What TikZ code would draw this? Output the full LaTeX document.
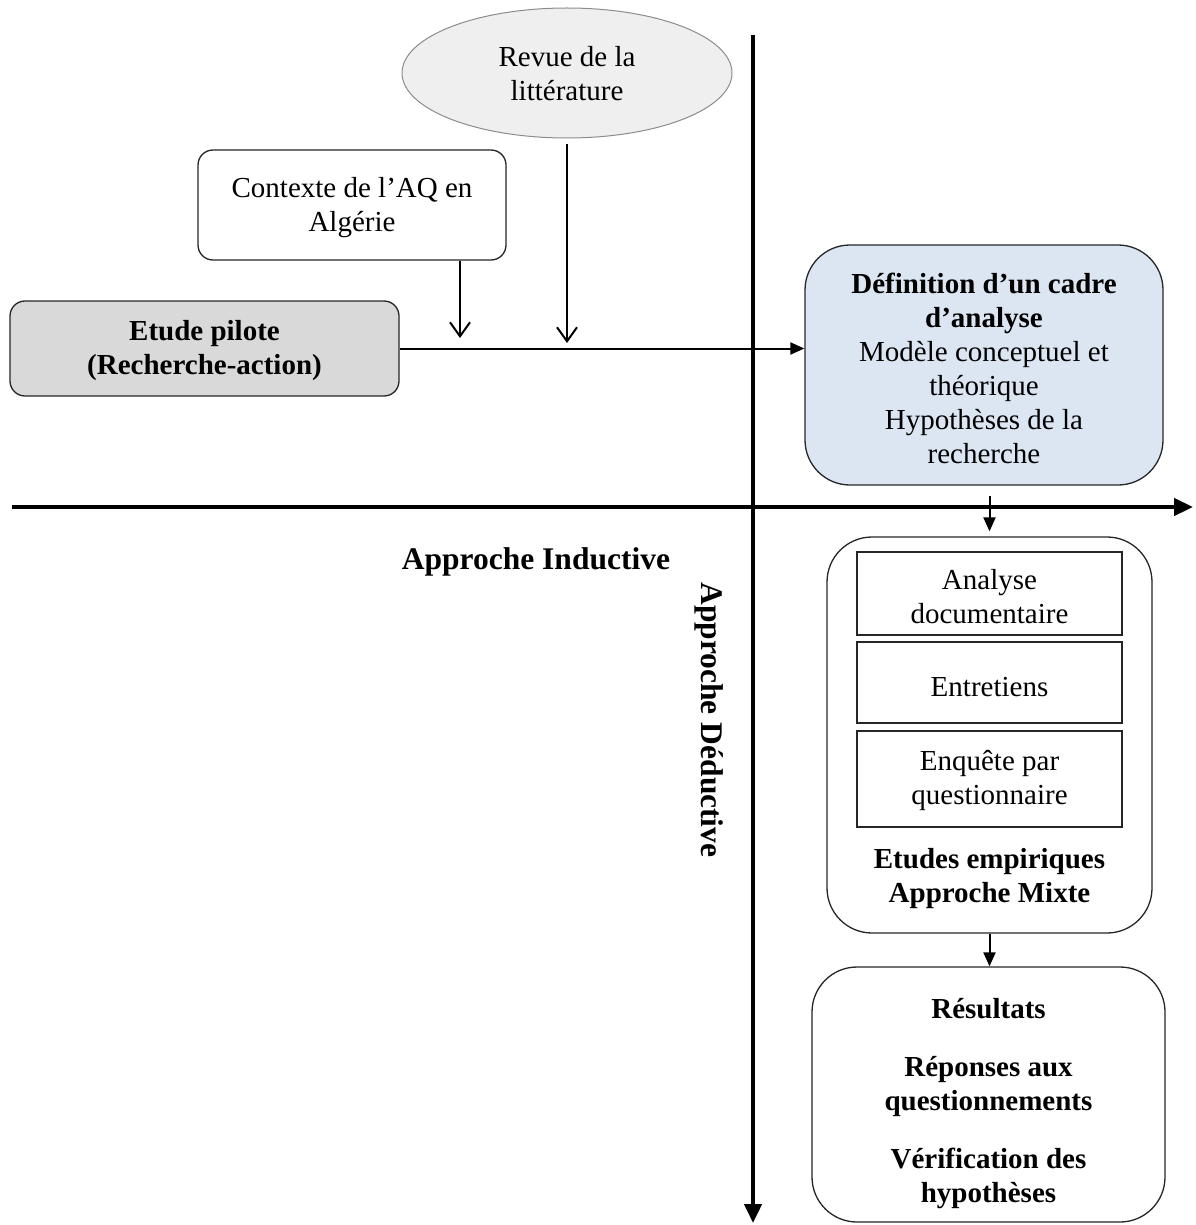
\documentclass[tikz,border=0pt]{standalone}
\usepackage{fontspec}
\setmainfont{Liberation Serif}
\usetikzlibrary{arrows.meta,shapes.geometric}

\definecolor{pilotfill}{HTML}{D9D9D9}
\definecolor{revfill}{HTML}{EFEFEF}
\definecolor{revdraw}{HTML}{8C8C8C}
\definecolor{deffill}{HTML}{DCE6F2}
\definecolor{boxdraw}{HTML}{262626}

\begin{document}
\begin{tikzpicture}[x=1pt,y=-1pt,
  txt/.style={font=\fontsize{29}{34}\selectfont, align=center, inner sep=0pt},
  bold/.style={txt, font=\fontsize{29}{34}\selectfont\bfseries},
  bigbold/.style={font=\fontsize{31.5}{36}\selectfont\bfseries, inner sep=0pt},
  box/.style={draw=boxdraw, line width=1.3pt, rounded corners=15pt, inner sep=0pt},
  bigbox/.style={box, rounded corners=45pt},
  subbox/.style={draw=boxdraw, line width=1.1pt, inner sep=0pt,
    minimum width=265pt},
  axis/.style={line width=4.5pt, -{Triangle[length=19pt,width=17pt]}},
  flow/.style={line width=2pt, -{Triangle[length=14pt,width=12pt]}},
  feed/.style={line width=2pt, -{Straight Barb[length=14pt,width=20pt,line width=2pt]}}
]
\useasboundingbox (0,0) rectangle (1195,1225);

% axes
\coordinate (vtop) at (753,35);
\coordinate (vbot) at (753,1223);
\coordinate (hleft) at (12,507);
\coordinate (hright) at (1193,507);
\draw[axis] (hleft) -- (hright);
\draw[axis] (vtop) -- (vbot);

% upper left: inputs of the pilot study
\node[ellipse, draw=revdraw, fill=revfill, line width=1pt,
  minimum width=330pt, minimum height=130pt] (rev) at (567,73) {};
\node[txt] (revlab) at (567,73.5) {Revue de la\\littérature};
\node[box, fill=white, minimum width=308pt, minimum height=110pt]
  (ctx) at (352,205) {};
\node[txt] (ctxlab) at (352,207.5) {Contexte de l’AQ en\\Algérie};
\node[box, fill=pilotfill, minimum width=389pt, minimum height=95pt]
  (pil) at (204.5,348.5) {};
\node[bold] (pillab) at (204.5,351) {Etude pilote\\(Recherche-action)};

% analysis framework
\node[bigbox, fill=deffill, minimum width=358pt, minimum height=240pt]
  (def) at (984,365) {};
\node[txt] (deflab) at (984,368.5)
  {\textbf{Définition d’un cadre}\\\textbf{d’analyse}\\Modèle conceptuel et\\théorique\\Hypothèses de la\\recherche};

% empirical studies
\node[bigbox, fill=white, minimum width=325pt, minimum height=396pt]
  (etu) at (989.5,735) {};
\node[subbox, minimum height=83pt] (doc) at (989.5,593.5) {};
\node[txt] (doclab) at (989.5,597) {Analyse\\documentaire};
\node[subbox, minimum height=81pt] (ent) at (989.5,682.5) {};
\node[txt] (entlab) at (989.5,687) {Entretiens};
\node[subbox, minimum height=96pt] (enq) at (989.5,779) {};
\node[txt] (enqlab) at (989.5,780.5) {Enquête par\\questionnaire};
\node[bold] (etulab) at (989.5,878.5) {Etudes empiriques\\Approche Mixte};

% results
\node[bigbox, fill=white, minimum width=353pt, minimum height=255pt]
  (res) at (988.5,1094.5) {};
\node[bold] (res1) at (988.5,1009) {Résultats};
\node[bold] (res2) at (988.5,1086.5) {Réponses aux\\questionnements};
\node[bold] (res3) at (988.5,1178.5) {Vérification des\\hypothèses};

% approach labels
\node[bigbold] (ind) at (536,562) {Approche Inductive};
\node[bigbold, rotate=-90] (ded) at (709,720) {Approche Déductive};

% connectors
\coordinate (c1) at (460,338);
\coordinate (c2) at (567,343);
\draw[flow] (pil.east) -- (pil.east -| def.west);
\draw[feed] (ctx.south -| c1) -- (c1);
\draw[feed, shorten <=6pt] (rev.south) -- (c2);
\draw[flow, shorten <=10pt, shorten >=5pt] (etu.north |- def.south) -- (etu.north);
\draw[flow] (etu.south) -- (etu.south |- res.north);
\end{tikzpicture}
\end{document}
